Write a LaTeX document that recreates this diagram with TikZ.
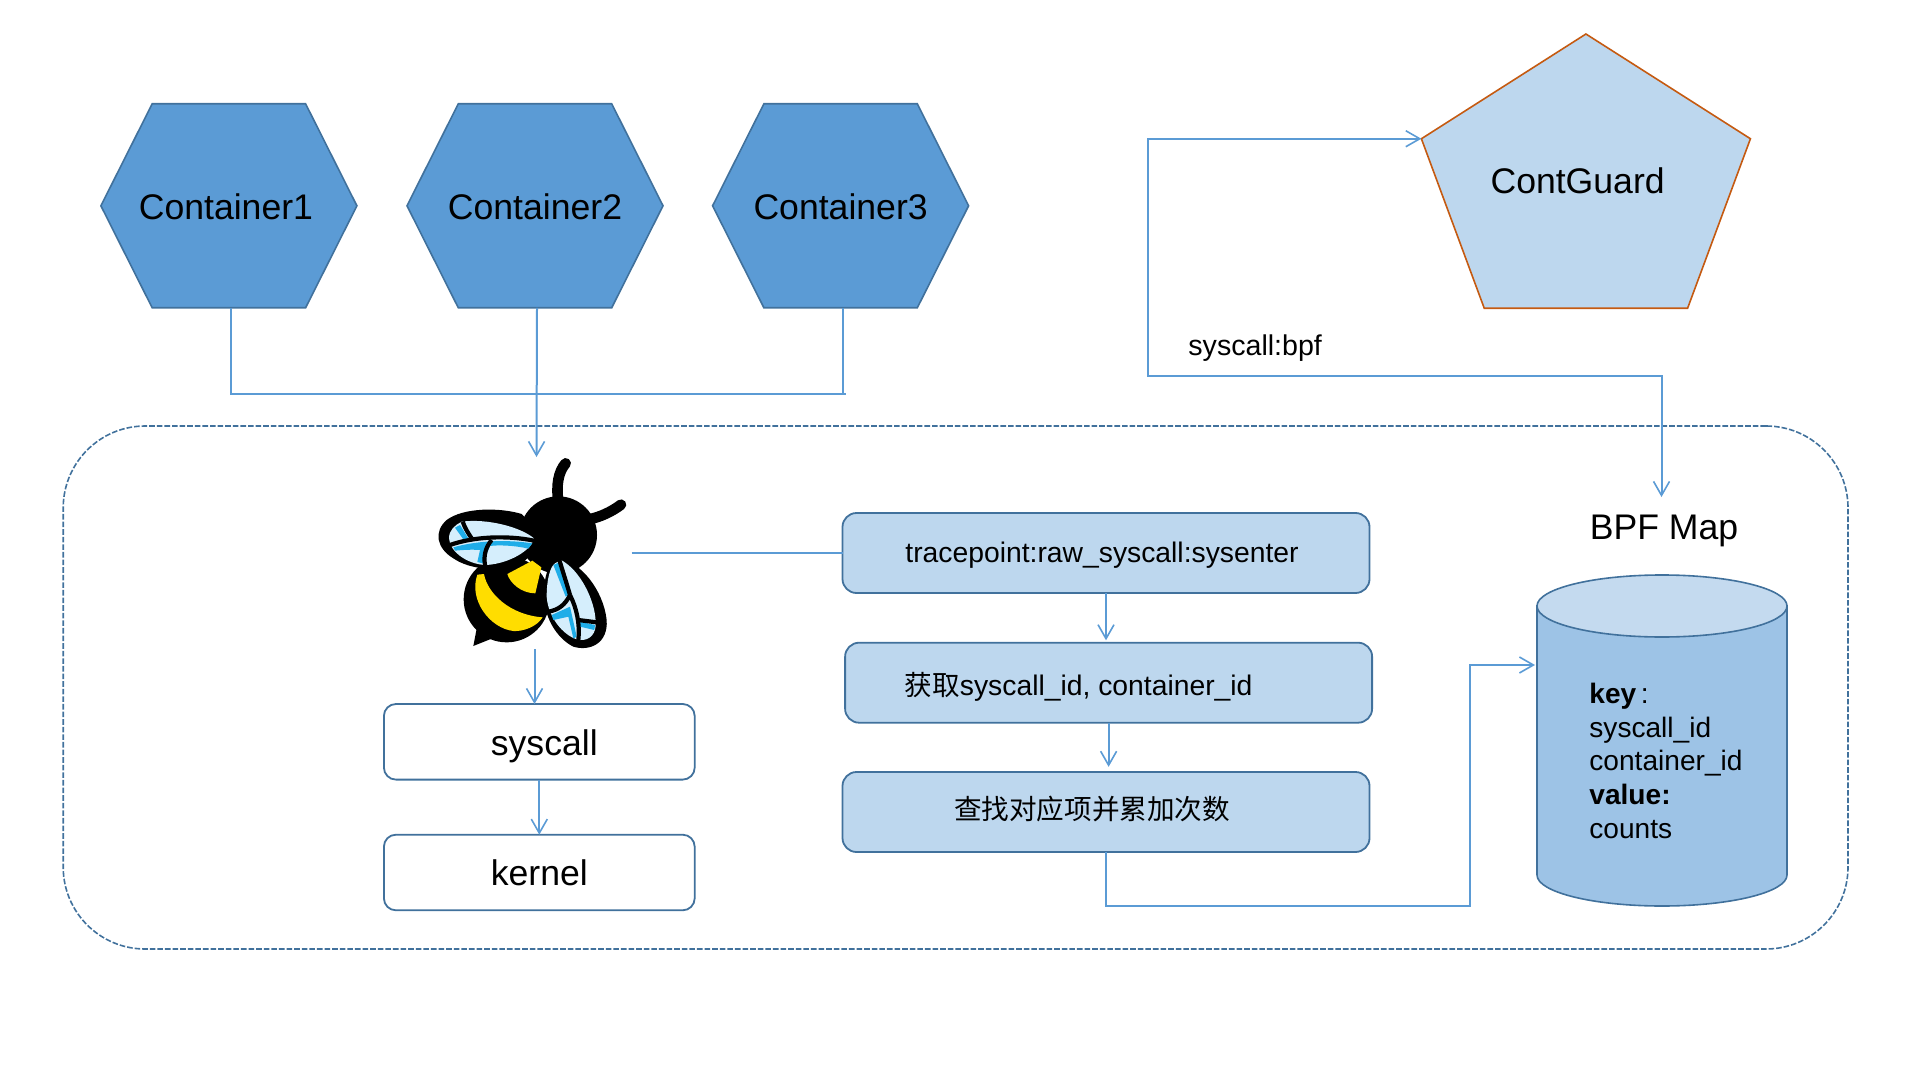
\documentclass[tikz,border=0pt]{standalone}
\usepackage{fontspec}
\setmainfont{Liberation Sans}
\newfontfamily\cjk{Noto Sans CJK SC}
\usetikzlibrary{shapes.geometric,shapes.misc,arrows.meta}
\definecolor{hexfill}{HTML}{5B9BD5}
\definecolor{edge}{HTML}{41719C}
\definecolor{pale}{HTML}{BDD7EE}
\definecolor{barrel}{HTML}{9DC3E6}
\definecolor{barreltop}{HTML}{C4DAEF}
\definecolor{rust}{HTML}{C55A11}
\definecolor{wing}{HTML}{D5EEFC}
\definecolor{wingblue}{HTML}{1FADE8}
\definecolor{beeyellow}{HTML}{FFDD00}
\begin{document}
\begin{tikzpicture}[x=0.5pt,y=-0.5pt,
big/.style={font=\fontsize{17.8}{21}\selectfont},
small/.style={font=\fontsize{14.15}{16.8}\selectfont},
hexa/.style={shape=chamfered rectangle,chamfered rectangle angle=26.7,chamfered rectangle ysep=44.2pt,minimum width=128pt,minimum height=102pt,inner sep=0pt,outer sep=0pt,fill=hexfill,draw=edge,line width=0.8pt,big,text height=13.6pt,text depth=0pt},
penta/.style={shape=regular polygon,regular polygon sides=5,minimum size=151.6pt,inner sep=0pt,outer sep=0pt,xscale=1.141,fill=pale,draw=rust,line width=0.8pt},
whitebox/.style={shape=rectangle,rounded corners=6pt,minimum width=155.4pt,minimum height=37.8pt,inner sep=0pt,outer sep=0pt,draw=edge,line width=0.9pt,fill=white,big,text height=13.2pt,text depth=0pt},
palebox/.style={shape=rectangle,rounded corners=7pt,minimum width=263.5pt,minimum height=40pt,inner sep=0pt,outer sep=0pt,draw=edge,line width=0.9pt,fill=pale,small,text depth=0pt},
host/.style={shape=rectangle,rounded corners=41pt,minimum width=892.4pt,minimum height=261.5pt,inner sep=0pt,outer sep=0pt,draw=edge,line width=0.8pt,dash pattern=on 2.8pt off 1pt},
barrelbox/.style={shape=rectangle,minimum width=125pt,minimum height=165.5pt,inner sep=0pt,outer sep=0pt},
barrelpart/.style={draw=edge,line width=0.8pt},
link/.style={draw=hexfill,line width=1pt},
flow/.style={link,-{Straight Barb[length=7pt,width=8pt,line width=0.8pt]}},
flowboth/.style={link,{Straight Barb[length=7pt,width=8pt,line width=0.8pt]}-{Straight Barb[length=7pt,width=8pt,line width=0.8pt]}},
vein/.style={draw=black,line width=2.1pt}]
\def\yrow{205.8};
\useasboundingbox (0,0) rectangle (1920,1080);
\node[host] (host) at (955.6,687.5) {};
\node[hexa] (C1) at (228.9,\yrow) {\hspace*{-3pt}Container1};
\node[hexa] (C2) at (535,\yrow) {Container2};
\node[hexa] (C3) at (840.6,\yrow) {Container3};
\node[penta] (guard) at (1585.9,185.6) {};
\node[big,anchor=base,inner sep=0pt] (guardtext) at (1577.6,193.7) {ContGuard};
\node[small,anchor=base west,inner sep=0pt,font=\fontsize{14.3}{16.8}\selectfont] (bpfcall) at (1188,356) {syscall:bpf};
\coordinate (merge) at (845.7,393.7);
\coordinate (busleft) at (1148,375.7);
\coordinate (maptop) at (1661.5,497);
\node[minimum width=95pt,minimum height=96pt,inner sep=0pt,outer sep=0pt] (bee) at (536.5,553) {};
\node[whitebox] (sys) at (539.3,741.8) {\hspace*{5pt}syscall};
\node[whitebox] (kern) at (539.3,872.5) {kernel};
\node[palebox,text height=9.7pt] (trace) at (1106,553) {\hspace*{-4pt}tracepoint:raw\_syscall:sysenter};
\node[palebox,text height=13pt] (fetch) at (1108.6,682.7) {\hspace*{-30pt}{\cjk\fontsize{13.8}{16}\selectfont 获取}syscall\_id, container\_id};
\node[palebox,text height=7pt] (count) at (1106,812) {\hspace*{-14pt}{\cjk\fontsize{13.8}{16}\selectfont 查找对应项并累加次数}};
\node[big,anchor=base,inner sep=0pt] (maplabel) at (1664,539.3) {BPF Map};
\node[barrelbox] (map) at (1662,740.5) {};
\filldraw[barrelpart,fill=barrel] ([yshift=-15.5pt]map.north west) -- ([yshift=15.5pt]map.south west) arc[start angle=180,end angle=0,x radius=125,y radius=31] -- ([yshift=-15.5pt]map.north east) -- cycle;
\filldraw[barrelpart,fill=barreltop] ([yshift=-15.5pt]map.north) ellipse[x radius=125,y radius=31];
\node[small,anchor=north west,inner sep=0pt,align=left,font=\fontsize{14.05}{16.8}\selectfont] (keys) at (1589,683) {\textbf{key}\,:\\syscall\_id\\container\_id\\\textbf{value:}\\counts};
\coordinate (turn) at (1470,905.7);
\coordinate (mapin) at (1535,665);
\draw[link] ([xshift=1pt]C1.south) |- (merge);
\draw[link] ([xshift=1pt]C3.south) -- ([xshift=1pt]C3.south |- merge);
\draw[flow] ([xshift=1pt]C2.south) -- (bee.north);
\draw[flowboth] (guard.corner 2) -| (busleft) -| (maptop);
\draw[link] (bee.east) -- (trace.west);
\draw[flow] ([xshift=-1pt]bee.south) -- ([xshift=-1pt]bee.south |- sys.north);
\draw[flow] (sys.south) -- (kern.north);
\draw[flow,shorten >=1.2pt] (trace.south) -- (trace.south |- fetch.north);
\draw[flow,shorten >=2.6pt] (fetch.south) -- (fetch.south |- count.north);
\draw[flow] (count.south) |- (turn) |- (mapin);
\begin{scope}[shift={(400,430)},x=0.16667pt,y=-0.16667pt]
\draw[black,line width=5.3pt,line cap=round] (475,215) .. controls (468,165) and (475,125) .. (497,100);
\draw[black,line width=5.3pt,line cap=round] (565,268) .. controls (600,262) and (635,245) .. (663,224);
\fill[black] (475,315) circle[radius=116];
\fill[black] (320,508) circle[radius=129];
\fill[black] (235,570) -- (220,648) -- (295,618) -- cycle;
\fill[beeyellow] (232,434) -- (252,432) .. controls (262,490) and (330,555) .. (428,562) .. controls (410,590) and (370,605) .. (340,603) .. controls (270,595) and (205,510) .. (232,434) -- cycle;
\fill[beeyellow] (322,432) -- (397,392) -- (424,412) -- (406,490) .. controls (365,490) and (330,460) .. (322,432) -- cycle;
\fill[black] (365,252) .. controls (300,232) and (190,232) .. (140,270) .. controls (100,305) and (110,355) .. (160,385) .. controls (210,420) and (300,425) .. (350,405) .. controls (390,390) and (430,340) .. (410,300) -- cycle;
\fill[wing] (185,275) .. controls (260,265) and (360,290) .. (402,325) .. controls (395,360) and (330,400) .. (260,405) .. controls (210,405) and (150,370) .. (147,325) .. controls (147,300) and (165,285) .. (185,275) -- cycle;
\fill[wingblue] (160,352) .. controls (230,332) and (320,328) .. (397,340) -- (385,356) .. controls (340,345) and (290,345) .. (270,348) -- (248,400) -- (232,396) -- (240,360) .. controls (215,358) and (185,360) .. (165,362) -- cycle;
\fill[wingblue] (165,293) -- (180,285) -- (205,325) -- (190,328) -- cycle;
\draw[vein] (150,345) .. controls (220,320) and (320,315) .. (402,332);
\draw[vein] (188,275) .. controls (195,295) and (205,310) .. (215,325);
\draw[vein] (275,330) .. controls (258,350) and (250,375) .. (255,405);
\fill[black] (470,385) .. controls (540,390) and (610,480) .. (620,570) .. controls (625,640) and (570,665) .. (520,650) .. controls (470,625) and (430,560) .. (432,490) .. controls (432,440) and (445,400) .. (470,385) -- cycle;
\fill[wing] (483,390) .. controls (540,420) and (585,510) .. (587,575) .. controls (590,610) and (570,632) .. (540,630) .. controls (500,625) and (445,570) .. (440,500) .. controls (440,450) and (450,410) .. (465,400) -- cycle;
\fill[wingblue] (460,405) -- (475,398) -- (510,490) -- (497,500) -- cycle;
\fill[wingblue] (455,555) -- (510,530) -- (530,620) -- (520,625) -- (505,560) -- (460,570) -- cycle;
\fill[wingblue] (540,575) -- (585,585) -- (583,600) -- (540,590) -- cycle;
\draw[vein] (478,390) .. controls (490,430) and (500,460) .. (510,495);
\draw[vein] (510,495) .. controls (495,525) and (475,540) .. (445,545);
\draw[vein] (510,495) .. controls (530,535) and (540,580) .. (535,630);
\draw[vein] (535,570) -- (590,577);
\end{scope}
\end{tikzpicture}
\end{document}
